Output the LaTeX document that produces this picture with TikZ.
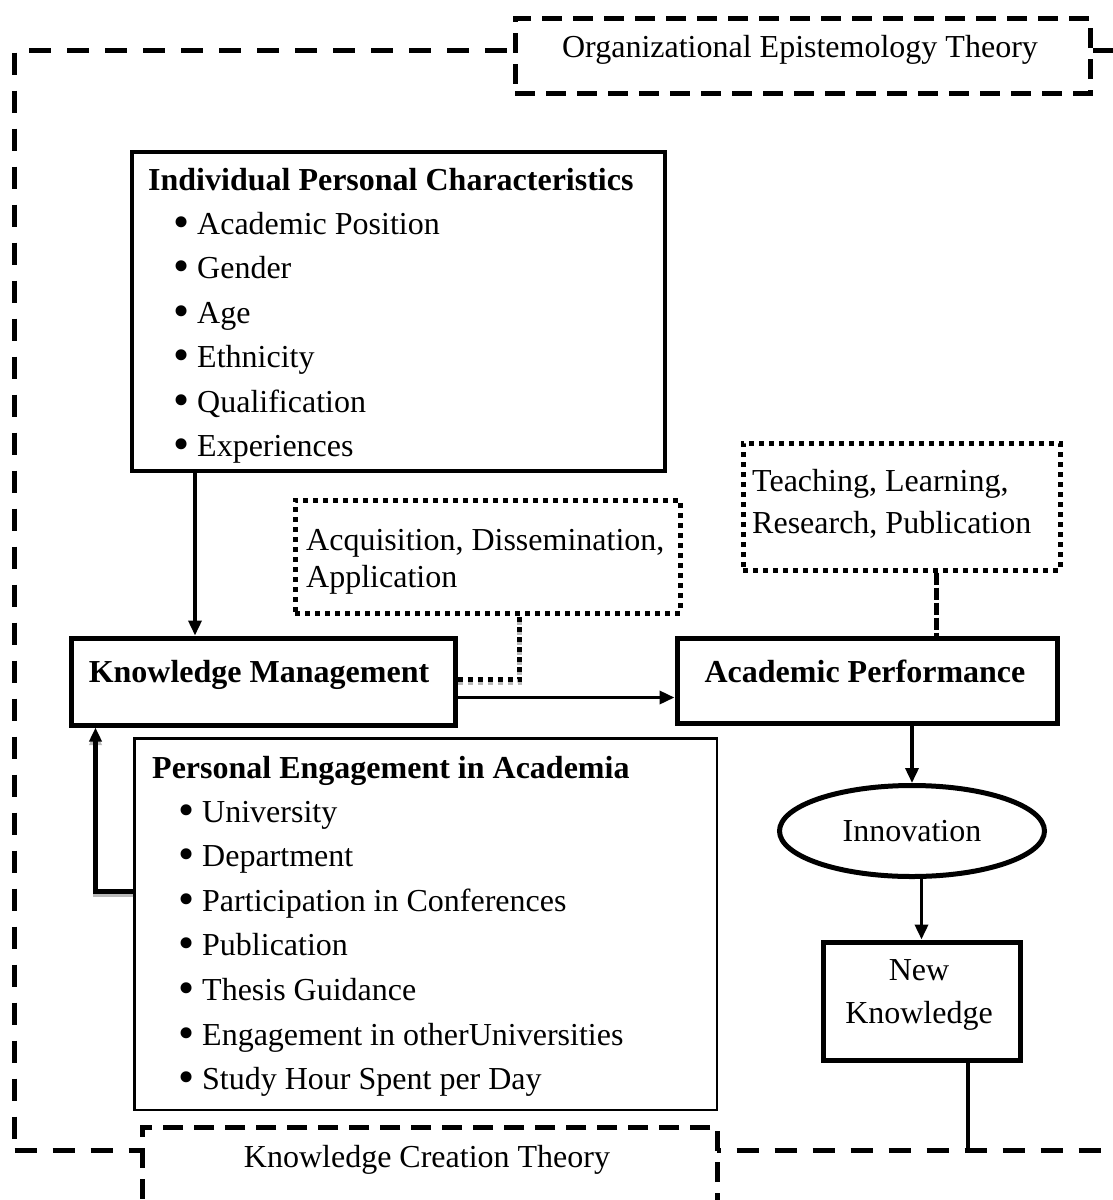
\documentclass[tikz,border=0pt]{standalone}
\usepackage{fontspec}
\setmainfont{Liberation Serif}
\usetikzlibrary{arrows.meta,shapes.geometric,calc}
\newcommand\mybul{\makebox[22pt][l]{\fontsize{46}{44.6}\selectfont\kern-1.5pt\raisebox{-3pt}{•}}}
\begin{document}
\begin{tikzpicture}[x=1pt,y=-1pt,
  txt/.style={font=\fontsize{32}{44.6}\selectfont, inner sep=0pt},
  btxt/.style={font=\fontsize{32}{44.6}\selectfont\bfseries, inner sep=0pt},
  box/.style={draw, rectangle, inner sep=0pt, anchor=north west},
  framedash/.style={dash pattern=on 22pt off 16pt, line width=5pt},
  theorybox/.style={box, fill=white, dash pattern=on 20pt off 11pt, line width=5pt},
  dotbox/.style={box, dash pattern=on 5pt off 5pt, line width=5pt},
  arr/.style={line width=3.5pt, -{Triangle[length=15pt,width=13pt]}},
  thickarr/.style={line width=5pt, -{Triangle[length=14pt,width=12pt]}},
  shadowarr/.style={thickarr, draw=gray!55, transform canvas={yshift=-3.5pt}},
  dotline/.style={line width=5pt, dash pattern=on 5pt off 5pt},
  dashline/.style={line width=5pt, dash pattern=on 12pt off 3pt},
]
\useasboundingbox (0,0) rectangle (1113,1200);
\fill[white] (0,0) rectangle (1113,1200);

% outer frame
\node[box, framedash, minimum width=1102pt, minimum height=1100pt] (frame) at (12,48) {};

% theory boxes
\node[theorybox, minimum width=575pt, minimum height=75pt] (oet) at (512.5,15.5) {};
\node[txt, anchor=base] (oett) at (800,57) {Organizational Epistemology Theory};
\node[theorybox, minimum width=575pt, minimum height=100pt] (kct) at (139.5,1124.5) {};
\node[txt, anchor=base] (kctt) at (427,1167) {Knowledge Creation Theory};

% Individual Personal Characteristics
\node[box, line width=4pt, minimum width=533pt, minimum height=319pt] (ipc) at (130,150) {};
\node[btxt, anchor=base west] (ipct) at (148,190) {Individual Personal Characteristics};
\foreach \t [count=\i] in {Academic Position, Gender, Age, Ethnicity, Qualification, Experiences}
  \node[txt, anchor=base west] (ipc-\i) at (175,{234+44.5*(\i-1)}) {\mybul\t};

% Knowledge Management
\node[box, line width=5pt, minimum width=384pt, minimum height=87pt] (km) at (68.5,635.5) {};
\node[btxt, anchor=base] (kmt) at (259,682) {Knowledge Management};

% Academic Performance
\node[box, line width=5pt, minimum width=380pt, minimum height=85pt] (ap) at (674.5,635.5) {};
\node[btxt, anchor=base] (apt) at (865,682) {Academic Performance};

% Acquisition box
\node[dotbox, minimum width=385pt, minimum height=113pt] (ac) at (292.5,497.5) {};
\node[txt, anchor=base west] (ac-1) at (306,550) {Acquisition, Dissemination,};
\node[txt, anchor=base west] (ac-2) at (306,587) {Application};

% Teaching box
\node[dotbox, minimum width=317pt, minimum height=127pt] (tl) at (740.5,440.5) {};
\node[txt, anchor=base west] (tl-1) at (752,491) {Teaching, Learning,};
\node[txt, anchor=base west] (tl-2) at (752,533) {Research, Publication};

% Innovation
\node[ellipse, draw, line width=5pt, minimum width=265pt, minimum height=91pt, inner sep=0pt, txt] (innov) at (912,831) {Innovation};

% New Knowledge
\node[box, line width=5pt, minimum width=197pt, minimum height=118pt] (nk) at (820.5,939.5) {};
\node[txt, anchor=base] (nk-1) at (919,980) {New};
\node[txt, anchor=base] (nk-2) at (919,1023) {Knowledge};

% Personal Engagement in Academia
\node[box, line width=2.5pt, minimum width=582.5pt, minimum height=371.5pt] (pea) at (133.25,737.25) {};
\node[btxt, anchor=base west] (peat) at (152,778) {Personal Engagement in Academia};
\foreach \t [count=\i] in {University, Department, Participation in Conferences, Publication, Thesis Guidance, Engagement in otherUniversities, Study Hour Spent per Day}
  \node[txt, anchor=base west] (pea-\i) at (180,{822+44.6*(\i-1)}) {\mybul\t};

% connectors
\draw[arr] ([xshift=65pt]ipc.south west) -- ([xshift=65pt]ipc.south west |- km.north);
\draw[shadowarr] ([yshift=33pt]pea.west) -| ([xshift=27pt]km.south west);
\draw[thickarr] ([yshift=33pt]pea.west) -| ([xshift=27pt]km.south west);
\draw[arr] ([yshift=-16pt]km.east) -- ([yshift=-16pt]km.east -| ap.west);
\draw[dotline, draw=gray!55, transform canvas={yshift=-3pt}] ([yshift=2pt]km.east) -| ([xshift=227pt]ac.south west);
\draw[dotline] ([yshift=2pt]km.east) -| ([xshift=227pt]ac.south west);
\draw[dashline] ([xshift=196pt]tl.south west) -- ([xshift=196pt]tl.south west |- ap.north);
\draw[arr] (ap.south -| innov.north) -- (innov.north);
\draw[arr] (innov.south -| nk.north) -- (nk.north);
\draw[line width=4pt] ([xshift=46pt]nk.south) -- ([xshift=46pt]nk.south |- frame.south);
\end{tikzpicture}
\end{document}
